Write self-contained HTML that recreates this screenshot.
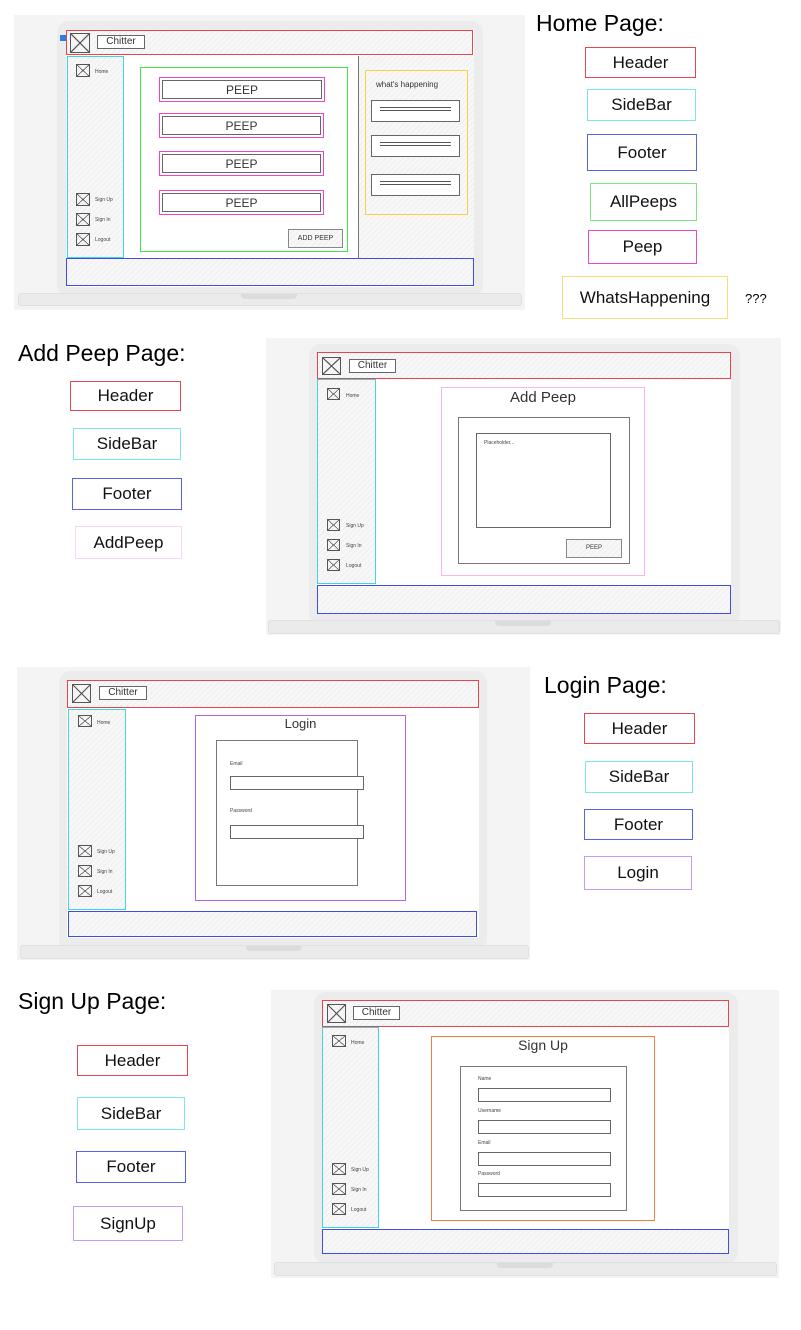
<!DOCTYPE html>
<html><head><meta charset="utf-8"><style>
body{margin:0;width:801px;height:1330px;position:relative;background:#fff;font-family:"Liberation Sans",sans-serif;overflow:hidden}
div{position:absolute;box-sizing:border-box}
.bg{background:#f4f4f4}
.body{background:#ececec;border-radius:12px}
.scr{background:#fff}
.hat{background:repeating-linear-gradient(135deg,#f7f7f7 0 3px,#efefef 3px 4px)}
.base{background:#ebebeb;border:1px solid #e0e0e0;border-radius:3px}
.notch{background:#dcdcdc;border-radius:0 0 4px 4px;height:5px}
.x{border:1px solid #555;background:linear-gradient(to top right,transparent 47%,#555 48%,#555 52%,transparent 53%),linear-gradient(to bottom right,transparent 47%,#555 48%,#555 52%,transparent 53%)}
.t{font-size:5px;color:#444;white-space:nowrap}
.box{border:1px solid #666;background:#fff}
.lab{font-size:17px;color:#111;text-align:center;display:flex;align-items:center;justify-content:center;background:#fff}
.big{font-size:23px;color:#000;white-space:nowrap}
.sk{font-family:"Liberation Sans",sans-serif;color:#333;text-align:center;white-space:nowrap}
</style></head><body>

<!-- HOME -->
<div class="bg" style="left:14px;top:15px;width:511px;height:295px"></div>
<div class="body" style="left:57px;top:21px;width:426px;height:276px"></div>
<div class="scr" style="left:66px;top:30px;width:408px;height:257px"></div>
<div class="hat" style="left:66px;top:30px;width:407px;height:25px;border:1px solid #e8434f"></div>
<div style="left:60px;top:35px;width:6px;height:6px;background:#2b7de9"></div>
<div class="x" style="left:70px;top:33px;width:20px;height:20px"></div>
<div class="box sk" style="left:97px;top:35px;width:48px;height:14px;font-size:10px;line-height:12px">Chitter</div>
<div class="hat" style="left:67px;top:56px;width:57px;height:202px;border:1px solid #3fd6dc"></div>
<div class="x" style="left:76px;top:64px;width:14px;height:13px"></div><div class="t" style="left:95px;top:69px">Home</div>
<div class="x" style="left:76px;top:193px;width:14px;height:13px"></div><div class="t" style="left:95px;top:197px">Sign Up</div>
<div class="x" style="left:76px;top:213px;width:14px;height:13px"></div><div class="t" style="left:95px;top:217px">Sign In</div>
<div class="x" style="left:76px;top:233px;width:14px;height:13px"></div><div class="t" style="left:95px;top:237px">Logout</div>
<div class="hat" style="left:358px;top:56px;width:116px;height:202px;border-left:1px solid #777"></div>
<div style="left:140px;top:67px;width:208px;height:185px;border:1px solid #44e844"></div>
<div style="left:159px;top:77px;width:166px;height:25px;border:1px solid #ee44cc;padding:2px"><div class="box sk" style="position:static;height:100%;font-size:12px;line-height:18px">PEEP</div></div>
<div style="left:159px;top:113px;width:165px;height:25px;border:1px solid #ee44cc;padding:2px"><div class="box sk" style="position:static;height:100%;font-size:12px;line-height:18px">PEEP</div></div>
<div style="left:159px;top:151px;width:165px;height:25px;border:1px solid #ee44cc;padding:2px"><div class="box sk" style="position:static;height:100%;font-size:12px;line-height:18px">PEEP</div></div>
<div style="left:159px;top:190px;width:165px;height:25px;border:1px solid #ee44cc;padding:2px"><div class="box sk" style="position:static;height:100%;font-size:12px;line-height:18px">PEEP</div></div>
<div class="sk hat" style="left:288px;top:229px;width:55px;height:19px;border:1px solid #888;font-size:7px;line-height:17px">ADD PEEP</div>
<div style="left:365px;top:70px;width:103px;height:145px;border:1px solid #f3d43c"></div>
<div class="sk" style="left:376px;top:80px;font-size:8px">what's happening</div>
<div class="box" style="left:371px;top:100px;width:89px;height:22px"><div style="left:8px;top:6px;width:71px;height:4px;border-top:1px solid #555;border-bottom:1px solid #555"></div></div>
<div class="box" style="left:371px;top:135px;width:89px;height:22px"><div style="left:8px;top:6px;width:71px;height:4px;border-top:1px solid #555;border-bottom:1px solid #555"></div></div>
<div class="box" style="left:371px;top:174px;width:89px;height:22px"><div style="left:8px;top:6px;width:71px;height:4px;border-top:1px solid #555;border-bottom:1px solid #555"></div></div>
<div class="hat" style="left:66px;top:258px;width:408px;height:28px;border:1px solid #3d4fe0"></div>
<div class="base" style="left:18px;top:293px;width:504px;height:13px"></div>
<div class="notch" style="left:241px;top:294px;width:56px"></div>

<div class="big" style="left:536px;top:10px">Home Page:</div>
<div class="lab" style="left:585px;top:47px;width:111px;height:31px;border:1px solid #e8434f">Header</div>
<div class="lab" style="left:587px;top:89px;width:109px;height:32px;border:1px solid #7fe4e6">SideBar</div>
<div class="lab" style="left:587px;top:134px;width:110px;height:37px;border:1px solid #5563e6">Footer</div>
<div class="lab" style="left:590px;top:183px;width:107px;height:38px;border:1px solid #7ee87e">AllPeeps</div>
<div class="lab" style="left:588px;top:230px;width:109px;height:34px;border:1px solid #ee44cc">Peep</div>
<div class="lab" style="left:562px;top:276px;width:166px;height:43px;border:1px solid #f3e07c">WhatsHappening</div>
<div style="left:745px;top:291px;font-size:13px">???</div>

<!-- ADD PEEP -->
<div class="big" style="left:18px;top:340px">Add Peep Page:</div>
<div class="lab" style="left:70px;top:381px;width:111px;height:30px;border:1px solid #e8434f">Header</div>
<div class="lab" style="left:73px;top:428px;width:108px;height:32px;border:1px solid #7fe4e6">SideBar</div>
<div class="lab" style="left:72px;top:478px;width:110px;height:32px;border:1px solid #5563e6">Footer</div>
<div class="lab" style="left:75px;top:526px;width:107px;height:33px;border:1px solid #f9d4f4">AddPeep</div>

<div class="bg" style="left:266px;top:338px;width:515px;height:297px"></div>
<div class="body" style="left:309px;top:344px;width:431px;height:282px"></div>
<div class="scr" style="left:317px;top:352px;width:414px;height:262px"></div>
<div class="hat" style="left:317px;top:352px;width:414px;height:27px;border:1px solid #e8434f"></div>
<div class="x" style="left:322px;top:357px;width:19px;height:18px"></div>
<div class="box sk" style="left:349px;top:359px;width:47px;height:14px;font-size:10px;line-height:12px">Chitter</div>
<div class="hat" style="left:317px;top:379px;width:59px;height:205px;border:1px solid #3fd6dc"></div>
<div class="x" style="left:327px;top:388px;width:13px;height:12px"></div><div class="t" style="left:346px;top:393px">Home</div>
<div class="x" style="left:327px;top:519px;width:13px;height:12px"></div><div class="t" style="left:346px;top:523px">Sign Up</div>
<div class="x" style="left:327px;top:539px;width:13px;height:12px"></div><div class="t" style="left:346px;top:543px">Sign In</div>
<div class="x" style="left:327px;top:559px;width:13px;height:12px"></div><div class="t" style="left:346px;top:563px">Logout</div>
<div style="left:441px;top:387px;width:204px;height:189px;border:1px solid #f9b4f0"></div>
<div class="sk" style="left:441px;top:389px;width:204px;font-size:15px">Add Peep</div>
<div class="box" style="left:458px;top:417px;width:172px;height:147px;border-color:#777"></div>
<div class="box" style="left:476px;top:433px;width:135px;height:95px"></div>
<div class="t" style="left:484px;top:440px">Placeholder...</div>
<div class="sk hat" style="left:566px;top:539px;width:56px;height:19px;border:1px solid #888;font-size:6px;line-height:17px">PEEP</div>
<div class="hat" style="left:317px;top:585px;width:414px;height:29px;border:1px solid #3d4fe0"></div>
<div class="base" style="left:268px;top:620px;width:512px;height:14px"></div>
<div class="notch" style="left:495px;top:621px;width:56px"></div>

<!-- LOGIN -->
<div class="bg" style="left:17px;top:667px;width:513px;height:293px"></div>
<div class="body" style="left:59px;top:671px;width:428px;height:280px"></div>
<div class="scr" style="left:67px;top:680px;width:412px;height:258px"></div>
<div class="hat" style="left:67px;top:680px;width:412px;height:28px;border:1px solid #e8434f"></div>
<div class="x" style="left:72px;top:684px;width:19px;height:19px"></div>
<div class="box sk" style="left:99px;top:686px;width:48px;height:14px;font-size:10px;line-height:12px">Chitter</div>
<div class="hat" style="left:68px;top:709px;width:58px;height:201px;border:1px solid #3fd6dc"></div>
<div class="x" style="left:78px;top:715px;width:14px;height:12px"></div><div class="t" style="left:97px;top:720px">Home</div>
<div class="x" style="left:78px;top:845px;width:14px;height:12px"></div><div class="t" style="left:97px;top:849px">Sign Up</div>
<div class="x" style="left:78px;top:865px;width:14px;height:12px"></div><div class="t" style="left:97px;top:869px">Sign In</div>
<div class="x" style="left:78px;top:885px;width:14px;height:12px"></div><div class="t" style="left:97px;top:889px">Logout</div>
<div style="left:195px;top:715px;width:211px;height:186px;border:1px solid #b462ee"></div>
<div class="sk" style="left:195px;top:716px;width:211px;font-size:13px">Login</div>
<div class="box" style="left:216px;top:740px;width:142px;height:146px;border-color:#777"></div>
<div class="t" style="left:230px;top:761px">Email</div>
<div class="box" style="left:230px;top:776px;width:134px;height:14px"></div>
<div class="t" style="left:230px;top:808px">Password</div>
<div class="box" style="left:230px;top:825px;width:134px;height:14px"></div>
<div class="hat" style="left:68px;top:911px;width:409px;height:26px;border:1px solid #3d4fe0"></div>
<div class="base" style="left:20px;top:945px;width:509px;height:14px"></div>
<div class="notch" style="left:246px;top:946px;width:56px"></div>

<div class="big" style="left:544px;top:672px">Login Page:</div>
<div class="lab" style="left:584px;top:713px;width:111px;height:31px;border:1px solid #e8434f">Header</div>
<div class="lab" style="left:585px;top:761px;width:108px;height:32px;border:1px solid #7fe4e6">SideBar</div>
<div class="lab" style="left:584px;top:809px;width:109px;height:31px;border:1px solid #5563e6">Footer</div>
<div class="lab" style="left:584px;top:856px;width:108px;height:34px;border:1px solid #c79cf0">Login</div>

<!-- SIGN UP -->
<div class="big" style="left:18px;top:988px">Sign Up Page:</div>
<div class="lab" style="left:77px;top:1045px;width:111px;height:31px;border:1px solid #e8434f">Header</div>
<div class="lab" style="left:77px;top:1097px;width:108px;height:33px;border:1px solid #7fe4e6">SideBar</div>
<div class="lab" style="left:76px;top:1151px;width:110px;height:32px;border:1px solid #5563e6">Footer</div>
<div class="lab" style="left:73px;top:1206px;width:110px;height:35px;border:1px solid #c79cf0">SignUp</div>

<div class="bg" style="left:271px;top:990px;width:508px;height:288px"></div>
<div class="body" style="left:314px;top:992px;width:424px;height:272px"></div>
<div class="scr" style="left:322px;top:1000px;width:407px;height:254px"></div>
<div class="hat" style="left:322px;top:1000px;width:407px;height:27px;border:1px solid #e8434f"></div>
<div class="x" style="left:327px;top:1004px;width:19px;height:19px"></div>
<div class="box sk" style="left:353px;top:1006px;width:47px;height:14px;font-size:10px;line-height:12px">Chitter</div>
<div class="hat" style="left:322px;top:1027px;width:57px;height:201px;border:1px solid #3fd6dc"></div>
<div class="x" style="left:332px;top:1035px;width:14px;height:12px"></div><div class="t" style="left:351px;top:1040px">Home</div>
<div class="x" style="left:332px;top:1163px;width:14px;height:12px"></div><div class="t" style="left:351px;top:1167px">Sign Up</div>
<div class="x" style="left:332px;top:1183px;width:14px;height:12px"></div><div class="t" style="left:351px;top:1187px">Sign In</div>
<div class="x" style="left:332px;top:1203px;width:14px;height:12px"></div><div class="t" style="left:351px;top:1207px">Logout</div>
<div style="left:431px;top:1036px;width:224px;height:185px;border:1px solid #f08040"></div>
<div class="sk" style="left:431px;top:1037px;width:224px;font-size:14px">Sign Up</div>
<div class="box" style="left:460px;top:1066px;width:167px;height:145px;border-color:#777"></div>
<div class="t" style="left:478px;top:1076px">Name</div>
<div class="box" style="left:478px;top:1088px;width:133px;height:14px"></div>
<div class="t" style="left:478px;top:1108px">Username</div>
<div class="box" style="left:478px;top:1120px;width:133px;height:14px"></div>
<div class="t" style="left:478px;top:1140px">Email</div>
<div class="box" style="left:478px;top:1152px;width:133px;height:14px"></div>
<div class="t" style="left:478px;top:1171px">Password</div>
<div class="box" style="left:478px;top:1183px;width:133px;height:14px"></div>
<div class="hat" style="left:322px;top:1229px;width:407px;height:25px;border:1px solid #3d4fe0"></div>
<div class="base" style="left:274px;top:1262px;width:503px;height:14px"></div>
<div class="notch" style="left:497px;top:1263px;width:56px"></div>
</body></html>
